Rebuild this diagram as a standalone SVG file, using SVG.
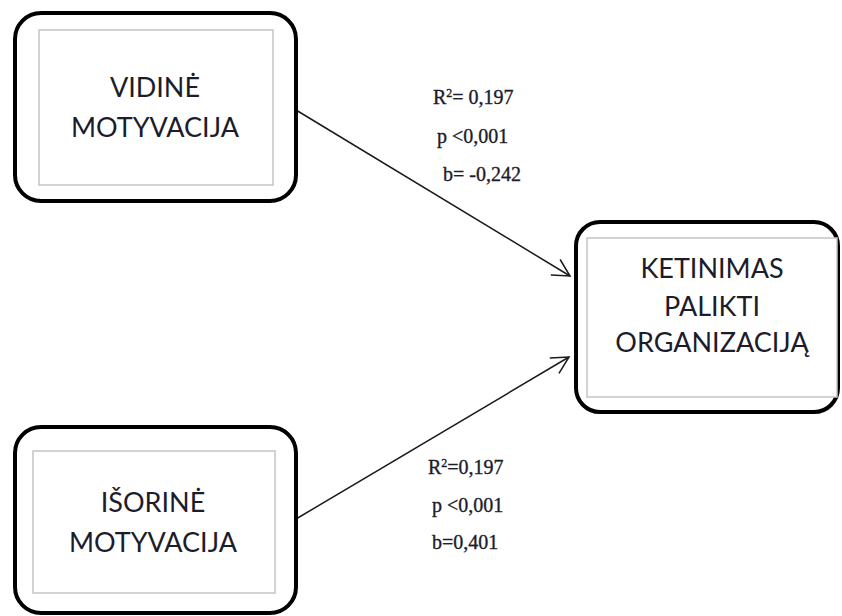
<svg xmlns="http://www.w3.org/2000/svg" width="842" height="616" viewBox="0 0 842 616">
<style>
.outer{fill:#fff;stroke:#000;stroke-width:4}
.inner{fill:#fff;stroke:#c4c4c4;stroke-width:1.5}
.lbl{font-family:Lato,"Liberation Sans",sans-serif;font-size:27px;fill:#1c1c2a;text-anchor:middle}
.stat{font-family:"Liberation Serif",serif;font-size:20px;fill:#1c1c2a;stroke:#1c1c2a;stroke-width:0.35}
.edge{fill:none;stroke:#1a1a1a;stroke-width:1.5}
</style>
<defs>
<marker id="arr" viewBox="0 0 20 20" refX="18" refY="10" markerWidth="20" markerHeight="20" markerUnits="userSpaceOnUse" orient="auto">
<path d="M1,1 L18,10 L1,19" fill="none" stroke="#1a1a1a" stroke-width="1.5"/>
</marker>
</defs>
<g id="edges">
<line class="edge" x1="296" y1="110" x2="570" y2="276" marker-end="url(#arr)"/>
<line class="edge" x1="296" y1="519" x2="569" y2="357" marker-end="url(#arr)"/>
<text class="stat" x="433" y="104">R<tspan font-size="12" dy="-7">2</tspan><tspan dy="7">= 0,197</tspan></text>
<text class="stat" x="437" y="143">p &lt;0,001</text>
<text class="stat" x="443" y="181">b= -0,242</text>
<text class="stat" x="428" y="474">R<tspan font-size="12" dy="-7">2</tspan><tspan dy="7">=0,197</tspan></text>
<text class="stat" x="432" y="512">p &lt;0,001</text>
<text class="stat" x="432" y="549">b=0,401</text>
</g>
<g id="vidine">
<rect class="outer" x="15" y="13" width="281" height="188" rx="26"/>
<rect class="inner" x="39" y="30" width="234" height="155"/>
<text class="lbl" x="155" y="97">VIDINĖ</text>
<text class="lbl" x="155" y="137">MOTYVACIJA</text>
</g>
<g id="isorine">
<rect class="outer" x="15" y="427" width="281" height="186" rx="26"/>
<rect class="inner" x="33" y="451" width="242" height="142"/>
<text class="lbl" x="153" y="512">IŠORINĖ</text>
<text class="lbl" x="153" y="552">MOTYVACIJA</text>
</g>
<g id="ketinimas">
<rect class="outer" x="576" y="222" width="262" height="190" rx="24"/>
<rect class="inner" x="587" y="238" width="250" height="159"/>
<text class="lbl" x="712" y="278">KETINIMAS</text>
<text class="lbl" x="712" y="316">PALIKTI</text>
<text class="lbl" x="712" y="352">ORGANIZACIJĄ</text>
</g>
</svg>
